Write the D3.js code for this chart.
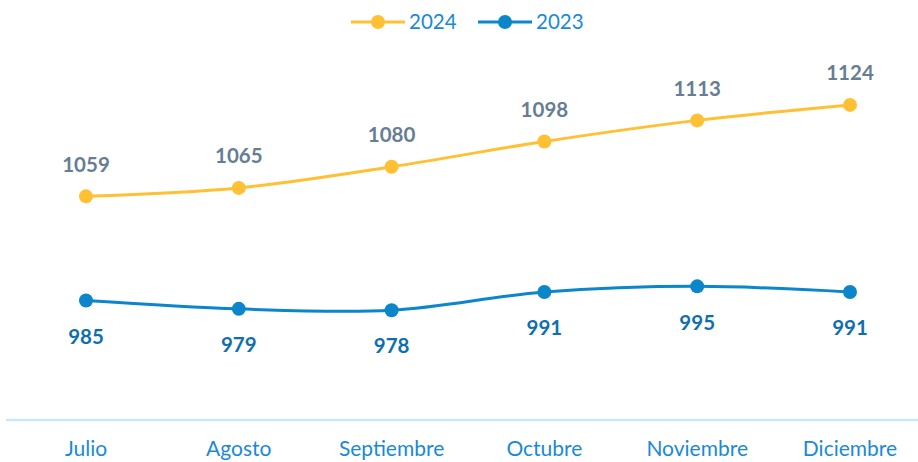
<!DOCTYPE html>
<html>
<head>
<meta charset="utf-8">
<script src="https://cdn.jsdelivr.net/npm/d3@7"></script>
<style>
  body { margin: 0; background: #fff; }
  svg { display: block; font-family: Lato, "Open Sans", sans-serif; }
</style>
</head>
<body>
<div id="chart"></div>
<script>
// data
var months = ["Julio", "Agosto", "Septiembre", "Octubre", "Noviembre", "Diciembre"];
var values2024 = [1059, 1065, 1080, 1098, 1113, 1124];
var values2023 = [985, 979, 978, 991, 995, 991];

var width = 918,
    height = 462;

var svg = d3.select("#chart")
  .append("svg")
    .attr("width", width)
    .attr("height", height);

// x is a point scale, the first and last months sit near the edges
var x = d3.scalePoint()
    .domain(months)
    .range([86, 850]);

var y = d3.scaleLinear()
    .domain([900, 1200])
    .range([420, -2]);

var series = [
  { name: "2024", values: values2024, color: "#FFC034", labelColor: "#667D93", dy: -32 },
  { name: "2023", values: values2023, color: "#0B86CB", labelColor: "#0F6FAE", dy: 36 }
];

// axis line at the bottom
svg.append("line")
    .attr("x1", 6)
    .attr("x2", width)
    .attr("y1", y(900))
    .attr("y2", y(900))
    .attr("stroke", "#CDE7F8")
    .attr("stroke-width", 2.5);

svg.append("g")
  .selectAll("text")
  .data(months)
  .join("text")
    .attr("x", d => x(d))
    .attr("y", 456)
    .attr("text-anchor", "middle")
    .attr("font-size", 21)
    .attr("fill", "#1A8AD6")
    .text(d => d);

var line = d3.line()
    .x((d, i) => x(months[i]))
    .y(d => y(d))
    .curve(d3.curveCatmullRom.alpha(0.5));

series.forEach(function(s) {
  var g = svg.append("g");
  g.append("path")
    .attr("d", line(s.values))
    .attr("fill", "none")
    .attr("stroke", s.color)
    .attr("stroke-width", 3);

  g.selectAll("circle")
    .data(s.values)
    .join("circle")
      .attr("cx", (d, i) => x(months[i]))
      .attr("cy", d => y(d))
      .attr("r", 7)
      .attr("fill", s.color);

  g.selectAll("text")
    .data(s.values)
    .join("text")
      .attr("x", (d, i) => x(months[i]))
      .attr("y", d => y(d) + s.dy)
      .attr("dy", "0.35em")
      .attr("text-anchor", "middle")
      .attr("font-size", 20.5)
      .attr("font-weight", "bold")
      .attr("fill", s.labelColor)
      .text(d => d);
});

// legend
var legend = svg.append("g")
  .selectAll("g")
  .data(series)
  .join("g")
    .attr("transform", (d, i) => "translate(" + (351 + i * 127) + ",22)");

legend.append("line")
    .attr("x1", 0)
    .attr("x2", 54)
    .attr("stroke", d => d.color)
    .attr("stroke-width", 3);

legend.append("circle")
    .attr("cx", 27)
    .attr("r", 7)
    .attr("fill", d => d.color);

legend.append("text")
    .attr("x", 58)
    .attr("dy", "0.35em")
    .attr("font-size", 20.5)
    .attr("fill", "#1A8AD6")
    .text(d => d.name);
</script>
</body>
</html>
